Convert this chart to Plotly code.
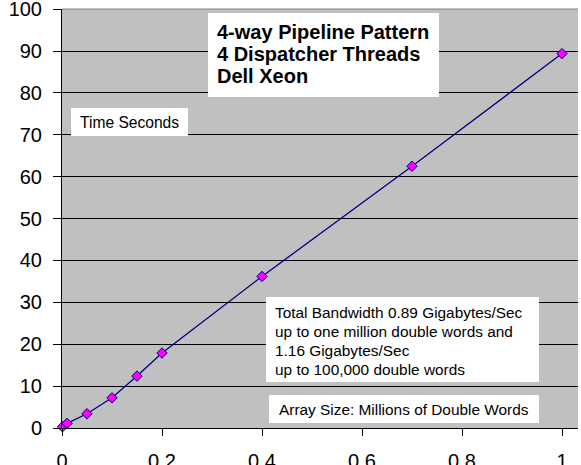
import plotly.graph_objects as go

# Array size (millions of double words) vs. elapsed time (seconds)
array_size = [0.001, 0.01, 0.05, 0.1, 0.15, 0.2, 0.4, 0.7, 1.0]
time_seconds = [0.3, 1.1, 3.4, 7.2, 12.4, 17.9, 36.2, 62.5, 89.4]

x_ticks = [0, 0.2, 0.4, 0.6, 0.8, 1]
x_tick_text = ["0", "0.2", "0.4", "0.6", "0.8", "1"]
y_ticks = list(range(0, 101, 10))

title_lines = ["4-way Pipeline Pattern", "4 Dispatcher Threads", "Dell Xeon"]
y_label = "Time Seconds"
x_label = "Array Size: Millions of Double Words"
note_lines = [
    "Total Bandwidth 0.89 Gigabytes/Sec",
    "up to one million double words and",
    "1.16 Gigabytes/Sec",
    "up to 100,000 double words",
]

W, H = 581, 465
L, R, T, B = 62, 3, 9, 37
PW, PH = W - L - R, H - T - B


def px(x):
    return (x - L) / PW


def py(y):
    return (H - B - y) / PH


fig = go.Figure()
fig.add_trace(go.Scatter(
    x=array_size, y=time_seconds, mode="lines+markers",
    line=dict(color="#000080", width=1.3),
    marker=dict(symbol="diamond", size=8, color="#FF00FF",
                line=dict(color="#000080", width=1)),
    showlegend=False, cliponaxis=False,
))

font = "Arial, Liberation Sans, sans-serif"

# plot-area top border
fig.add_shape(type="line", xref="paper", yref="paper", x0=0, x1=1,
              y0=1, y1=1, line=dict(color="#808080", width=1))


def text_box(x0, y0, x1, y1, lines, tx, ty, step, size, bold=False):
    """White box with left-aligned lines; ty is the first line's centre."""
    fig.add_shape(type="rect", xref="paper", yref="paper",
                  x0=px(x0), x1=px(x1), y0=py(y1), y1=py(y0),
                  fillcolor="white", line=dict(width=0), layer="above")
    for i, line in enumerate(lines):
        body = "<b>" + line + "</b>" if bold else line
        fig.add_annotation(xref="paper", yref="paper", x=px(tx),
                           y=py(ty + i * step), xanchor="left",
                           yanchor="middle", text=body, showarrow=False,
                           align="left", borderpad=0,
                           font=dict(family=font, size=size, color="black"))


text_box(208, 13, 439, 97, title_lines, 216, 32, 22, 20, bold=True)
text_box(71, 108, 188, 136, [y_label], 79, 122.5, 0, 15.6)
text_box(266, 297, 539, 382, note_lines, 274, 312, 19, 15.4)
text_box(269, 395, 539, 423, [x_label], 278, 409, 0, 15.4)

fig.update_layout(
    width=W, height=H,
    margin=dict(l=L, r=R, t=T, b=B, autoexpand=False),
    paper_bgcolor="white", plot_bgcolor="#C0C0C0",
    font=dict(family=font, size=20, color="black"),
    xaxis=dict(range=[0, PW / 500], tickvals=x_ticks, ticktext=x_tick_text,
               showgrid=False, zeroline=False, showline=True,
               linecolor="black", linewidth=1, ticks="outside", ticklen=7,
               tickcolor="black", ticklabelstandoff=8, automargin=False,
               ticklabeloverflow="allow"),
    yaxis=dict(range=[0, 100.05], tickvals=y_ticks, showgrid=True,
               gridcolor="black", gridwidth=1, zeroline=False,
               showline=True, linecolor="black", linewidth=1,
               ticks="outside", ticklen=8, tickcolor="black",
               ticklabelstandoff=7, automargin=False,
               ticklabeloverflow="allow"),
)

fig.write_html("out.html")
